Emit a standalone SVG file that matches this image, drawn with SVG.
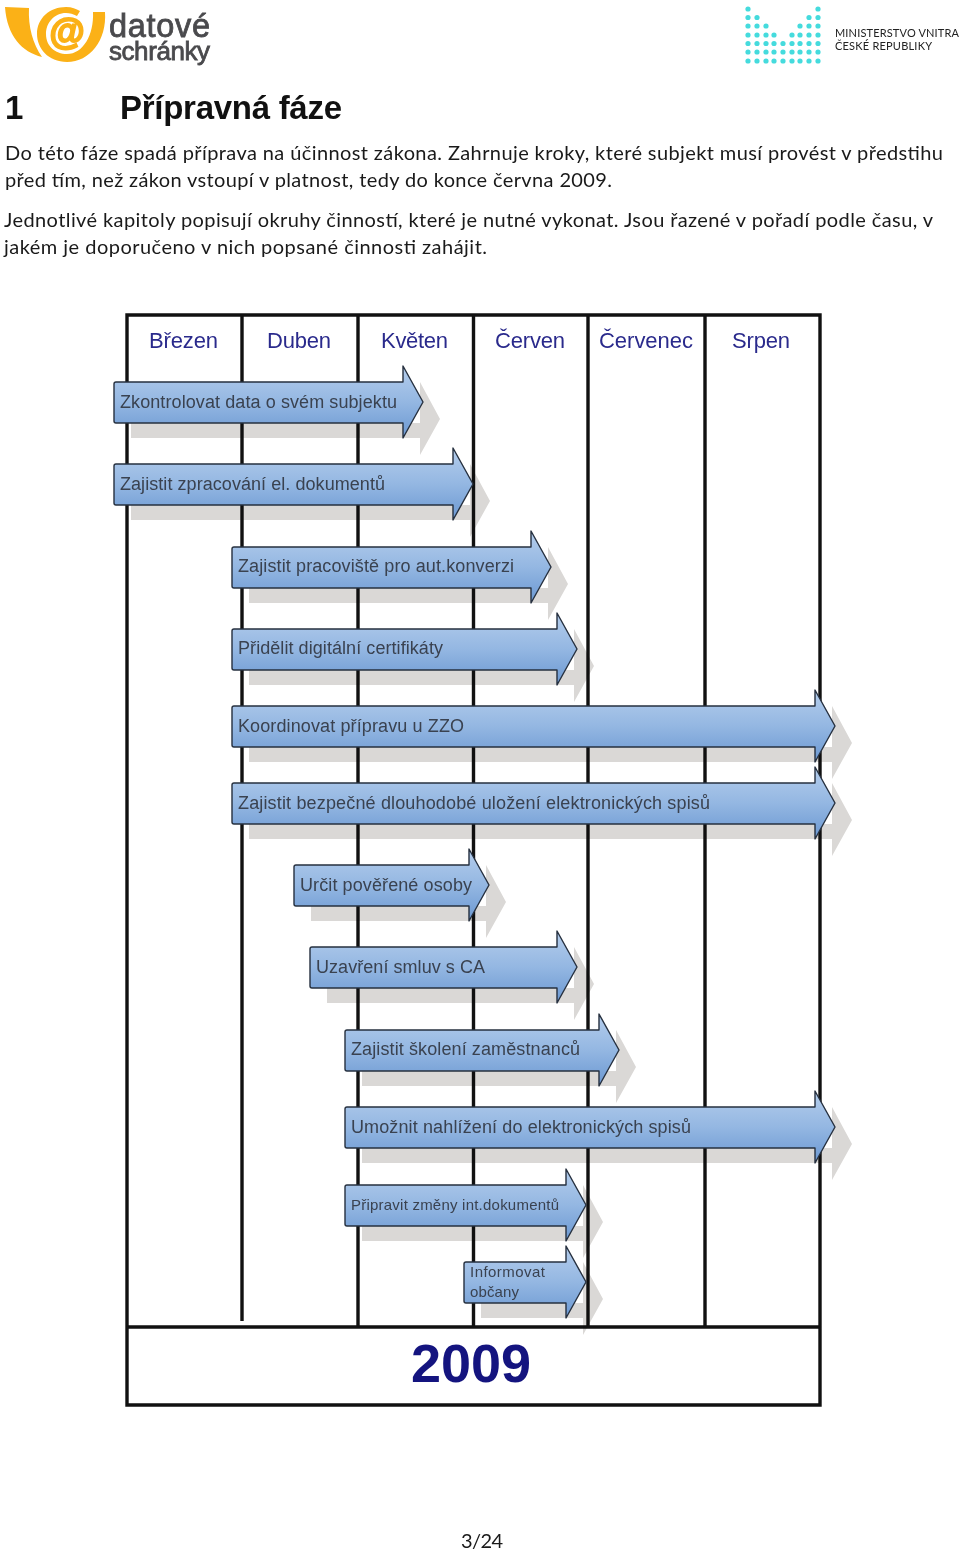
<svg xmlns="http://www.w3.org/2000/svg" width="960" height="1555" viewBox="0 0 960 1555">
<style>
.b{font-family:Lato,"Open Sans",sans-serif;font-size:20px;fill:#1a1a1a}
.h{font-family:"Liberation Sans",Arial,sans-serif;font-size:33px;font-weight:700;fill:#111}
.m{font-family:"Liberation Sans",Arial,sans-serif;font-size:22px;fill:#2a2a8c}
.a{font-family:"Liberation Sans",Arial,sans-serif;font-size:18px;fill:#3a4250}
.g{stroke:#111;stroke-width:3.4;fill:none}
.s{fill:#dad8d6;mix-blend-mode:multiply;filter:url(#sb)}
.f{fill:url(#ag);stroke:#26303f;stroke-width:1.4;stroke-linejoin:round}
.d{fill:#45dbdd}
.l{font-family:"Liberation Sans",Arial,sans-serif;fill:#4a4a4d;stroke:#4a4a4d;stroke-width:.8}
.r{font-family:Lato,"Open Sans",sans-serif;font-size:11px;fill:#222}
</style>
<defs>
<linearGradient id="ag" x1="0" y1="0" x2="0" y2="1">
<stop offset="0" stop-color="#b4cdec"/><stop offset="0.5" stop-color="#94b7e2"/><stop offset="1" stop-color="#6b98d2"/>
</linearGradient>
<filter id="sb" x="-5%" y="-5%" width="110%" height="110%"><feGaussianBlur stdDeviation="0.7"/></filter>
</defs>
<rect width="960" height="1555" fill="#fff"/>

<g id="logo-datove">
<path d="M5 7L29 8C28 27 33 44 42 57C22 52 7 36 5 7Z" fill="#fbb117"/>
<path d="M105 12C107 40 90 62 67 62C48 62 37 48 37 34C37 18 50 7 66 7C72 7 76 9 80 11L77 16C73 14 70 13 66 13C54 13 46 23 46 34C46 46 55 54 67 54C83 54 94 35 93 12Z" fill="#fbb117"/>
<text x="67" y="44" text-anchor="middle" style="font-family:'Liberation Sans',sans-serif;font-size:36px;font-weight:700;fill:#fbb117;stroke:#fbb117;stroke-width:2">@</text>
<text class="l" x="109" y="37" font-size="32.5" textLength="101">datové</text>
<text class="l" x="109" y="60" font-size="26" textLength="101">schránky</text>
</g>

<g id="logo-mv">
<g class="d">
<circle cx="748" cy="9" r="2.6"/><circle cx="818" cy="9" r="2.6"/>
<circle cx="748" cy="17.500" r="2.6"/><circle cx="757" cy="17.500" r="2.6"/><circle cx="809" cy="17.500" r="2.6"/><circle cx="818" cy="17.500" r="2.6"/>
<circle cx="748" cy="26" r="2.6"/><circle cx="757" cy="26" r="2.6"/><circle cx="766" cy="26" r="2.6"/><circle cx="800" cy="26" r="2.6"/><circle cx="809" cy="26" r="2.6"/><circle cx="818" cy="26" r="2.6"/>
<circle cx="748" cy="35" r="2.6"/><circle cx="757" cy="35" r="2.6"/><circle cx="766" cy="35" r="2.6"/><circle cx="774" cy="35" r="2.6"/><circle cx="792" cy="35" r="2.6"/><circle cx="800" cy="35" r="2.6"/><circle cx="809" cy="35" r="2.6"/><circle cx="818" cy="35" r="2.6"/>
<circle cx="748" cy="43.500" r="2.6"/><circle cx="757" cy="43.500" r="2.6"/><circle cx="766" cy="43.500" r="2.6"/><circle cx="774" cy="43.500" r="2.6"/><circle cx="783" cy="43.500" r="2.6"/><circle cx="792" cy="43.500" r="2.6"/><circle cx="800" cy="43.500" r="2.6"/><circle cx="809" cy="43.500" r="2.6"/><circle cx="818" cy="43.500" r="2.6"/>
<circle cx="748" cy="52" r="2.6"/><circle cx="757" cy="52" r="2.6"/><circle cx="766" cy="52" r="2.6"/><circle cx="774" cy="52" r="2.6"/><circle cx="783" cy="52" r="2.6"/><circle cx="792" cy="52" r="2.6"/><circle cx="800" cy="52" r="2.6"/><circle cx="809" cy="52" r="2.6"/><circle cx="818" cy="52" r="2.6"/>
<circle cx="748" cy="61" r="2.6"/><circle cx="757" cy="61" r="2.6"/><circle cx="766" cy="61" r="2.6"/><circle cx="774" cy="61" r="2.6"/><circle cx="783" cy="61" r="2.6"/><circle cx="792" cy="61" r="2.6"/><circle cx="800" cy="61" r="2.6"/><circle cx="809" cy="61" r="2.6"/><circle cx="818" cy="61" r="2.6"/>
</g>
<text class="r" x="835" y="37" textLength="124">MINISTERSTVO VNITRA</text>
<text class="r" x="835" y="50" textLength="97">ČESKÉ  REPUBLIKY</text>
</g>

<g id="heading">
<text class="h" x="5" y="119">1</text>
<text class="h" x="120" y="119" textLength="222">Přípravná fáze</text>
</g>
<g id="body">
<text class="b" x="5" y="160" textLength="938">Do této fáze spadá příprava na účinnost zákona. Zahrnuje kroky, které subjekt musí provést v předstihu</text>
<text class="b" x="5" y="187" textLength="607">před tím, než zákon vstoupí v platnost, tedy do konce června 2009.</text>
<text class="b" x="4" y="227" textLength="929">Jednotlivé kapitoly popisují okruhy činností, které je nutné vykonat. Jsou řazené v pořadí podle času, v</text>
<text class="b" x="4" y="254" textLength="483">jakém je doporučeno v nich popsané činnosti zahájit.</text>
</g>

<g id="chart-grid">
<path class="g" d="M127 315H820V1405H127ZM127 1327H820M242 315V1321M358 315V1327M473.500 315V1327M588 315V1327M705 315V1327"/>
<text class="m" x="149" y="348" textLength="69">Březen</text>
<text class="m" x="267" y="348" textLength="64">Duben</text>
<text class="m" x="381" y="348" textLength="67">Květen</text>
<text class="m" x="495" y="348" textLength="70">Červen</text>
<text class="m" x="599" y="348" textLength="94">Červenec</text>
<text class="m" x="732" y="348" textLength="58">Srpen</text>
<text x="471" y="1382" text-anchor="middle" style="font-family:'Liberation Sans',sans-serif;font-size:54px;font-weight:700;fill:#14147f">2009</text>
</g>

<g id="connectors"></g>

<g id="a1"><path class="s" d="M131 423H420V382L440 419L420 455V438H131Z"/><path class="f" d="M116 382H403V366L423 402L403 438V423H116Q114 423 114 421V384Q114 382 116 382Z"/><text class="a" x="120" y="408" textLength="277">Zkontrolovat data o svém subjektu</text></g>
<g id="a2"><path class="s" d="M131 505H470V464L490 501L470 537V520H131Z"/><path class="f" d="M116 464H453V448L473 484L453 520V505H116Q114 505 114 503V466Q114 464 116 464Z"/><text class="a" x="120" y="490" textLength="265">Zajistit zpracování el. dokumentů</text></g>
<g id="a3"><path class="s" d="M249 588H548V547L568 584L548 620V603H249Z"/><path class="f" d="M234 547H531V531L551 567L531 603V588H234Q232 588 232 586V549Q232 547 234 547Z"/><text class="a" x="238" y="572" textLength="276">Zajistit pracoviště pro aut.konverzi</text></g>
<g id="a4"><path class="s" d="M249 670H574V629L594 666L574 702V685H249Z"/><path class="f" d="M234 629H557V613L577 649L557 685V670H234Q232 670 232 668V631Q232 629 234 629Z"/><text class="a" x="238" y="654" textLength="205">Přidělit digitální certifikáty</text></g>
<g id="a5"><path class="s" d="M249 747H832V706L852 743L832 779V762H249Z"/><path class="f" d="M234 706H815V690L835 726L815 762V747H234Q232 747 232 745V708Q232 706 234 706Z"/><text class="a" x="238" y="732" textLength="226">Koordinovat přípravu u ZZO</text></g>
<g id="a6"><path class="s" d="M249 824H832V783L852 820L832 856V839H249Z"/><path class="f" d="M234 783H815V767L835 803L815 839V824H234Q232 824 232 822V785Q232 783 234 783Z"/><text class="a" x="238" y="809" textLength="472">Zajistit bezpečné dlouhodobé uložení elektronických spisů</text></g>
<g id="a7"><path class="s" d="M311 906H486V865L506 902L486 938V921H311Z"/><path class="f" d="M296 865H469V849L489 885L469 921V906H296Q294 906 294 904V867Q294 865 296 865Z"/><text class="a" x="300" y="891" textLength="172">Určit pověřené osoby</text></g>
<g id="a8"><path class="s" d="M327 988H574V947L594 984L574 1020V1003H327Z"/><path class="f" d="M312 947H557V931L577 967L557 1003V988H312Q310 988 310 986V949Q310 947 312 947Z"/><text class="a" x="316" y="973" textLength="169">Uzavření smluv s CA</text></g>
<g id="a9"><path class="s" d="M362 1071H616V1030L636 1067L616 1103V1086H362Z"/><path class="f" d="M347 1030H599V1014L619 1050L599 1086V1071H347Q345 1071 345 1069V1032Q345 1030 347 1030Z"/><text class="a" x="351" y="1055" textLength="229">Zajistit školení zaměstnanců</text></g>
<g id="a10"><path class="s" d="M362 1148H832V1107L852 1144L832 1180V1163H362Z"/><path class="f" d="M347 1107H815V1091L835 1127L815 1163V1148H347Q345 1148 345 1146V1109Q345 1107 347 1107Z"/><text class="a" x="351" y="1133" textLength="340">Umožnit nahlížení do elektronických spisů</text></g>
<g id="a11"><path class="s" d="M362 1226H583V1185L603 1222L583 1258V1241H362Z"/><path class="f" d="M347 1185H566V1169L586 1205L566 1241V1226H347Q345 1226 345 1224V1187Q345 1185 347 1185Z"/><text class="a" x="351" y="1210" style="font-size:15px" textLength="208">Připravit změny int.dokumentů</text></g>
<g id="a12"><path class="s" d="M481 1303H583V1262L603 1299L583 1335V1318H481Z"/><path class="f" d="M466 1262H566V1246L586 1282L566 1318V1303H466Q464 1303 464 1301V1264Q464 1262 466 1262Z"/><text class="a" style="font-size:15px" x="470" y="1277" textLength="75">Informovat</text><text class="a" style="font-size:15px" x="470" y="1297" textLength="49">občany</text></g>

<text id="page" class="b" x="461" y="1548" textLength="42">3/24</text>
</svg>
